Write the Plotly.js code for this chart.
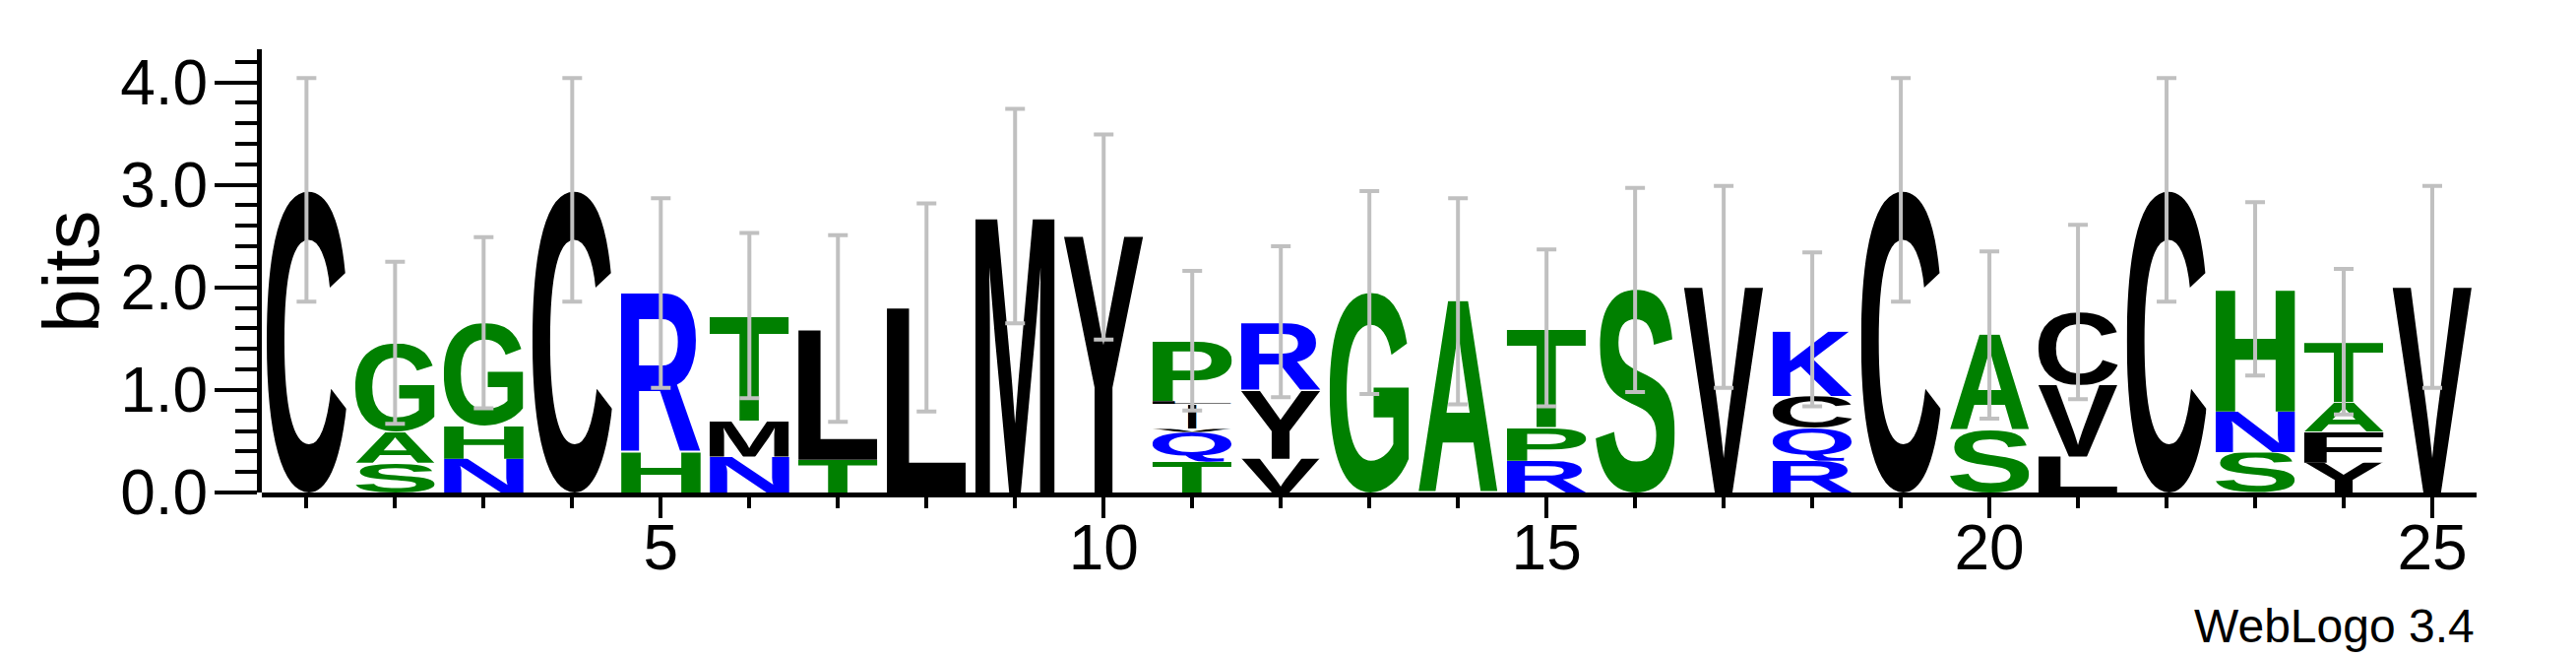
<!DOCTYPE html>
<html><head><meta charset="utf-8">
<script src="https://cdn.plot.ly/plotly-3.0.1.min.js"></script>
<style>html,body{margin:0;padding:0;background:#fff;}</style>
</head><body>
<div id="chart" style="width:2617px;height:667px;"></div>
<script>
const positions = [1,2,3,4,5,6,7,8,9,10,11,12,13,14,15,16,17,18,19,20,21,22,23,24,25];
// letters in each column, bottom to top
const stackLetters = [
  ["C"], ["S","A","G"], ["N","H","G"], ["C"], ["H","R"], ["N","M","T"], ["T","L"], ["L"],
  ["M"], ["Y"], ["T","Q","V","I","L","P"], ["V","Y","R"], ["G"], ["A"], ["R","P","T"], ["S"],
  ["V"], ["R","Q","C","K"], ["C"], ["S","A"], ["L","V","C"], ["C"], ["S","N","H"],
  ["Y","F","A","T"], ["V"]
];
// heights in bits, bottom to top
const stackBits = [
  [2.94], [0.29,0.30,0.86], [0.33,0.32,1.00], [2.94], [0.39,1.55], [0.35,0.35,1.01], [0.32,1.27], [1.80],
  [2.69], [2.50], [0.30,0.29,0.03,0.24,0.03,0.58], [0.33,0.66,0.66], [1.95], [1.87], [0.31,0.32,0.96], [1.98],
  [2.00], [0.31,0.32,0.31,0.63], [2.94], [0.61,0.93], [0.35,0.70,0.71], [2.94], [0.39,0.40,1.19],
  [0.29,0.30,0.29,0.58], [2.00]
];
const errLow  = [1.86,0.67,0.82,1.86,1.02,0.92,0.69,0.79,1.65,1.49,0.80,0.93,0.96,0.86,0.84,0.98,1.02,0.84,1.86,0.72,0.91,1.86,1.14,0.76,1.02];
const errHigh = [4.04,2.25,2.49,4.04,2.87,2.53,2.51,2.82,3.74,3.49,2.16,2.40,2.94,2.87,2.37,2.97,2.99,2.34,4.04,2.35,2.61,4.04,2.83,2.18,2.99];
const xTickVals = [5,10,15,20,25];
const yTickVals = [0,1,2,3,4];
const yTickText = ["0.0","1.0","2.0","3.0","4.0"];
const residueColors = {
  C:"#000000", L:"#000000", M:"#000000", Y:"#000000", V:"#000000", I:"#000000", F:"#000000",
  G:"#008000", A:"#008000", S:"#008000", T:"#008000", H:"#008000", P:"#008000",
  R:"#0000FF", N:"#0000FF", Q:"#0000FF", K:"#0000FF"
};
const footerText = "WebLogo 3.4";
const yTitle = "bits";

// ---- glyph images (letters stretched into their boxes) ----
const FONT = 'Liberation Sans';
const cv = document.createElement('canvas');
const ctx = cv.getContext('2d');
function glyphSource(ch, color){
  ctx.font = 'bold 200px "' + FONT + '"';
  const m = ctx.measureText(ch);
  const l = m.actualBoundingBoxLeft, r = m.actualBoundingBoxRight;
  const a = m.actualBoundingBoxAscent, d = m.actualBoundingBoxDescent;
  const w = l + r, h = a + d;
  const svg = '<svg xmlns="http://www.w3.org/2000/svg" width="' + w + '" height="' + h +
    '" viewBox="' + (-l) + ' ' + (-a) + ' ' + w + ' ' + h + '" preserveAspectRatio="none">' +
    '<text x="0" y="0" font-family="' + FONT + ', Arial, sans-serif" font-weight="700" font-size="200" fill="' +
    color + '">' + ch + '</text></svg>';
  return 'data:image/svg+xml;base64,' + btoa(svg);
}

function draw(){
  const LETTER_W = 0.9;
  const NARROW_W = {I: 0.1};
  const images = [];
  const totals = [];
  positions.forEach((p, i) => {
    let y0 = 0;
    stackLetters[i].forEach((ch, j) => {
      const h = stackBits[i][j];
      const w = NARROW_W[ch] || LETTER_W;
      images.push({
        source: glyphSource(ch, residueColors[ch]),
        xref: 'x', yref: 'y',
        x: p - w / 2, y: y0 + h,
        sizex: w, sizey: h,
        xanchor: 'left', yanchor: 'top',
        sizing: 'stretch', layer: 'below'
      });
      y0 += h;
    });
    totals.push(y0);
  });

  const errTrace = {
    type: 'scatter', mode: 'markers',
    x: positions, y: totals,
    marker: {size: 1, color: 'rgba(0,0,0,0)'},
    error_y: {
      type: 'data', symmetric: false,
      array: errHigh.map((v, i) => v - totals[i]),
      arrayminus: totals.map((v, i) => v - errLow[i]),
      color: '#c0c0c0', thickness: 4, width: 10
    },
    hoverinfo: 'skip', showlegend: false
  };

  const fam = FONT + ', Arial, sans-serif';
  const tickFont = {family: fam, size: 64, color: '#000'};
  const layout = {
    width: 2617, height: 667,
    margin: {l: 263, r: 101, t: 50, b: 167, pad: 0},
    paper_bgcolor: '#ffffff', plot_bgcolor: 'rgba(0,0,0,0)',
    showlegend: false,
    xaxis: {
      range: [0.5, 25.5], domain: [0.0015, 1],
      showgrid: false, zeroline: false,
      showline: true, linecolor: '#000', linewidth: 4.5,
      ticks: 'outside', tickvals: xTickVals, ticktext: xTickVals.map(String),
      ticklen: 21, tickwidth: 4, tickcolor: '#000',
      ticklabelstandoff: -24,
      minor: {dtick: 1, tick0: 0, ticks: 'outside', ticklen: 11, tickwidth: 4, tickcolor: '#000', showgrid: false},
      tickfont: tickFont, fixedrange: true
    },
    yaxis: {
      range: [0, Math.log2(20)], anchor: 'free', position: 0,
      showgrid: false, zeroline: false,
      showline: true, linecolor: '#000', linewidth: 4.5,
      ticks: 'outside', tickvals: yTickVals, ticktext: yTickText,
      ticklen: 43, tickwidth: 4, tickcolor: '#000',
      ticklabelstandoff: -6,
      minor: {dtick: 0.2, tick0: 0, ticks: 'outside', ticklen: 22, tickwidth: 4, tickcolor: '#000', showgrid: false},
      tickfont: tickFont, fixedrange: true
    },
    images: images,
    annotations: [{
      text: footerText, xref: 'paper', yref: 'paper', x: 1, y: -0.302,
      xanchor: 'right', yanchor: 'middle', showarrow: false,
      font: {family: fam, size: 48, color: '#000'}
    }, {
      text: yTitle, xref: 'paper', yref: 'paper', x: -0.0848, y: 0.5,
      xanchor: 'center', yanchor: 'middle', textangle: -90, showarrow: false,
      font: {family: fam, size: 80, color: '#000'}
    }]
  };
  Plotly.newPlot('chart', [errTrace], layout, {displayModeBar: false, staticPlot: true});
}

if (document.fonts && document.fonts.load) {
  document.fonts.load('bold 200px "' + FONT + '"').then(draw, draw);
} else { draw(); }
</script>
</body></html>
